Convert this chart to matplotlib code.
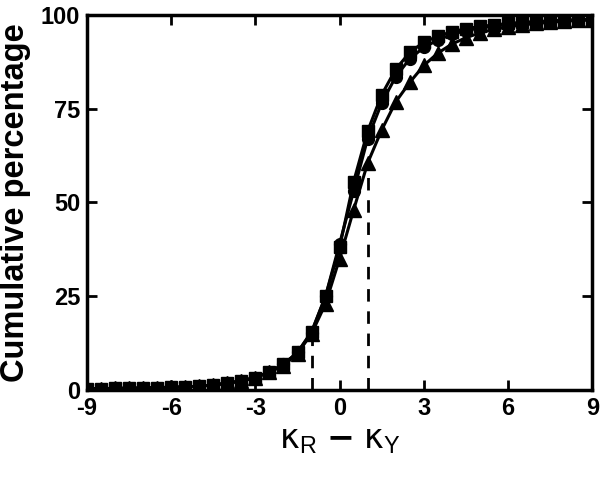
import matplotlib
matplotlib.use("Agg")
import matplotlib.pyplot as plt

x_vals = [-9, -8.5, -8, -7.5, -7, -6.5, -6, -5.5, -5, -4.5, -4, -3.5, -3, -2.5, -2, -1.5, -1, -0.5,
          0, 0.5, 1, 1.5, 2, 2.5, 3, 3.5, 4, 4.5, 5, 5.5, 6, 6.5, 7, 7.5, 8, 8.5, 9]

squares = [0.3, 0.35, 0.4, 0.45, 0.5, 0.6, 0.7, 0.8, 1.0, 1.3, 1.8, 2.4, 3.3, 4.8, 6.8, 10.0, 15.5, 25.0,
           38.0, 55.5, 69.0, 78.7, 85.5, 90.0, 92.7, 94.3, 95.5, 96.3, 96.9, 97.3, 97.7, 98.0, 98.2, 98.4,
           98.6, 98.7, 98.8]
circles = [0.3, 0.35, 0.4, 0.45, 0.5, 0.6, 0.7, 0.8, 1.0, 1.3, 1.8, 2.4, 3.3, 4.8, 6.8, 10.0, 15.3, 25.0,
           39.0, 53.0, 67.0, 76.5, 83.5, 88.3, 91.3, 93.3, 94.8, 95.8, 96.5, 97.0, 97.4, 97.8, 98.1, 98.3,
           98.5, 98.6, 98.7]
triangles = [0.3, 0.35, 0.4, 0.45, 0.5, 0.6, 0.7, 0.8, 1.0, 1.3, 1.8, 2.4, 3.3, 4.7, 6.5, 9.7, 15.0, 23.0,
             35.0, 48.0, 60.5, 69.3, 76.8, 82.0, 86.5, 89.8, 92.2, 93.9, 95.2, 96.1, 96.8, 97.3, 97.7, 98.0,
             98.3, 98.5, 98.7]

dashed_x = [-1, 1]
dashed_top = [15.5, 60.0]

x_ticks = [-9, -6, -3, 0, 3, 6, 9]
y_ticks = [0, 25, 50, 75, 100]

plt.rcParams['font.family'] = ['Liberation Sans', 'DejaVu Sans']
plt.rcParams['mathtext.fontset'] = 'dejavusans'
plt.rcParams['axes.unicode_minus'] = False

fig = plt.figure(figsize=(6.0, 4.79), dpi=100)
ax = fig.add_axes([0.145, 0.186, 0.842, 0.783])

lw = 2.2
ms = 8.5
ax.plot(x_vals, triangles, '-^', color='black', lw=lw, ms=ms + 1, zorder=3)
ax.plot(x_vals, circles, '-o', color='black', lw=lw, ms=ms, zorder=4)
ax.plot(x_vals, squares, '-s', color='black', lw=lw, ms=ms, zorder=5)

ax.vlines(dashed_x, 0, dashed_top, colors='black', linestyles=(0, (4.5, 3.5)), lw=2.0, zorder=2)

ax.set_xlim(-9, 9)
ax.set_ylim(0, 100)
ax.set_xticks(x_ticks)
ax.set_yticks(y_ticks)
ax.tick_params(direction='in', length=7, width=2, top=True, right=True, labelsize=17, pad=5)
for lab in ax.get_xticklabels() + ax.get_yticklabels():
    lab.set_fontweight('bold')
for s in ax.spines.values():
    s.set_linewidth(2.5)

ax.set_ylabel('Cumulative percentage', fontsize=23.5, fontweight='bold', labelpad=7)
ax.set_xlabel(r'$\mathrm{\kappa}_\mathregular{R}$ $\mathbf{-}$ $\mathrm{\kappa}_\mathregular{Y}$',
              fontsize=24, labelpad=4)

fig.savefig('out.png', dpi=100)
